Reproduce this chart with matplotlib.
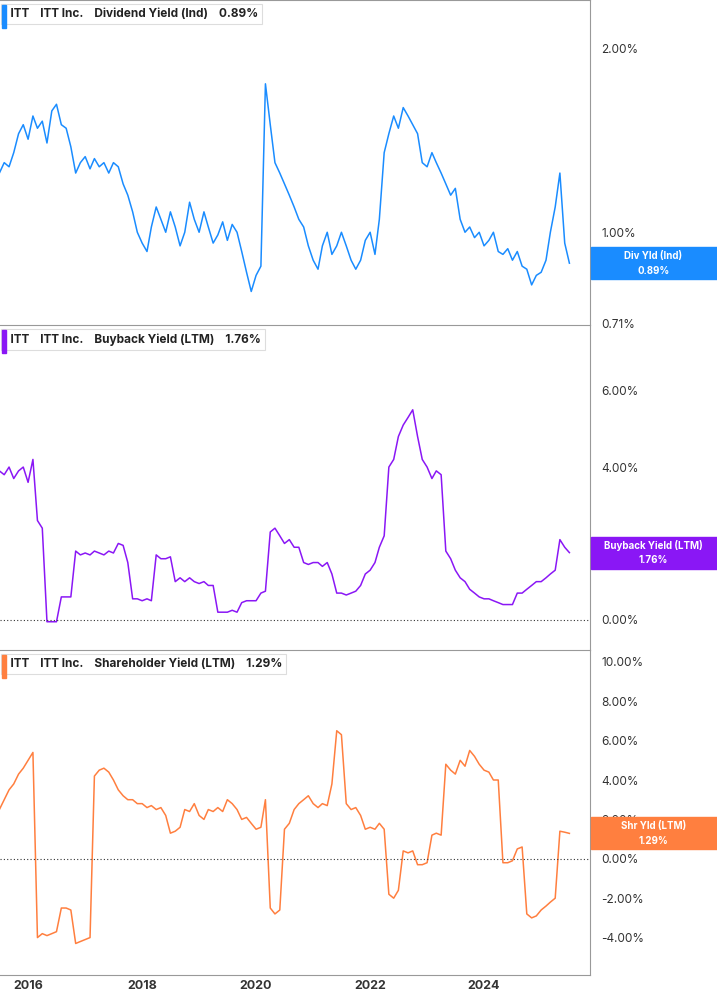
import numpy as np
import pandas as pd
import matplotlib
matplotlib.use("Agg")
import matplotlib.pyplot as plt
from matplotlib.ticker import FixedLocator, NullLocator
import matplotlib.dates as mdates

dates = pd.date_range("2015-07-01", periods=121, freq="MS")

div_yield = [1.25, 1.30, 1.28, 1.35, 1.45, 1.50, 1.42, 1.55, 1.48, 1.52, 1.40, 1.58, 1.62, 1.50, 1.48, 1.38,
             1.25, 1.30, 1.33, 1.27, 1.32, 1.28, 1.30, 1.25, 1.30, 1.28, 1.20, 1.15, 1.08, 1.00, 0.96, 0.93,
             1.02, 1.10, 1.05, 1.00, 1.08, 1.02, 0.95, 1.00, 1.12, 1.05, 1.00, 1.08, 1.02, 0.96, 0.99, 1.04,
             0.97, 1.03, 1.00, 0.93, 0.86, 0.80, 0.85, 0.88, 1.75, 1.50, 1.30, 1.25, 1.20, 1.15, 1.10, 1.05,
             1.02, 0.95, 0.90, 0.87, 0.95, 1.00, 0.92, 0.95, 1.00, 0.95, 0.90, 0.87, 0.90, 0.97, 1.00, 0.92,
             1.05, 1.35, 1.45, 1.55, 1.48, 1.60, 1.55, 1.50, 1.45, 1.30, 1.28, 1.35, 1.30, 1.25, 1.20, 1.15,
             1.18, 1.05, 1.00, 1.02, 0.98, 1.00, 0.95, 0.97, 1.00, 0.93, 0.92, 0.94, 0.90, 0.93, 0.88, 0.87,
             0.82, 0.85, 0.86, 0.90, 1.00, 1.10, 1.25, 0.96, 0.89]

buyback_yield = [3.9, 3.8, 4.0, 3.7, 3.9, 4.0, 3.6, 4.2, 2.6, 2.4, -0.05, -0.05, -0.05, 0.6, 0.6, 0.6,
                 1.8, 1.7, 1.75, 1.7, 1.8, 1.75, 1.7, 1.8, 1.75, 2.0, 1.95, 1.5, 0.55, 0.55, 0.5, 0.55,
                 0.5, 1.7, 1.6, 1.6, 1.65, 1.0, 1.1, 1.0, 1.1, 1.0, 0.95, 1.0, 0.9, 0.9, 0.2, 0.2,
                 0.2, 0.25, 0.2, 0.45, 0.5, 0.5, 0.5, 0.7, 0.75, 2.3, 2.4, 2.2, 2.0, 2.1, 1.9, 1.9,
                 1.5, 1.45, 1.5, 1.5, 1.4, 1.5, 1.2, 0.7, 0.7, 0.65, 0.7, 0.75, 0.9, 1.2, 1.3, 1.5,
                 1.9, 2.2, 4.0, 4.2, 4.8, 5.1, 5.3, 5.5, 4.8, 4.2, 4.0, 3.7, 3.9, 3.8, 1.8, 1.6,
                 1.3, 1.1, 1.0, 0.8, 0.7, 0.6, 0.55, 0.55, 0.5, 0.45, 0.4, 0.4, 0.4, 0.7, 0.7, 0.8,
                 0.9, 1.0, 1.0, 1.1, 1.2, 1.3, 2.1, 1.9, 1.76]

shr_yield = [2.5, 3.0, 3.5, 3.8, 4.3, 4.6, 5.0, 5.4, -4.0, -3.8, -3.9, -3.8, -3.7, -2.5, -2.5, -2.6,
             -4.3, -4.2, -4.1, -4.0, 4.2, 4.5, 4.6, 4.4, 4.0, 3.5, 3.2, 3.0, 3.0, 2.8, 2.8, 2.6,
             2.7, 2.5, 2.6, 2.2, 1.3, 1.4, 1.6, 2.5, 2.4, 2.8, 2.2, 2.0, 2.5, 2.4, 2.6, 2.4,
             3.0, 2.8, 2.5, 2.0, 2.1, 1.8, 1.5, 1.6, 3.0, -2.5, -2.8, -2.6, 1.5, 1.8, 2.5, 2.8,
             3.0, 3.2, 2.8, 2.6, 2.8, 2.7, 3.8, 6.5, 6.3, 2.8, 2.5, 2.6, 2.2, 1.5, 1.6, 1.5,
             1.8, 1.5, -1.8, -2.0, -1.6, 0.4, 0.3, 0.4, -0.3, -0.3, -0.2, 1.2, 1.3, 1.2, 4.8, 4.5,
             4.3, 5.0, 4.7, 5.5, 5.2, 4.8, 4.5, 4.4, 4.0, 4.0, -0.2, -0.2, -0.1, 0.5, 0.6, -2.8,
             -3.0, -2.9, -2.6, -2.4, -2.2, -2.0, 1.4, 1.35, 1.29]

W, H = 717, 1005
fig = plt.figure(figsize=(W / 100, H / 100), dpi=100)
plt.rcParams["font.family"] = "Inter"

panels = [
    dict(y=div_yield, color="#1a8cff", title="Dividend Yield (Ind)", tag="Div Yld (Ind)", val="0.89%",
         log=True, ylim=(0.705, 2.40), ticks=[0.71, 1.0, 2.0], zero=False),
    dict(y=buyback_yield, color="#8a17f5", title="Buyback Yield (LTM)", tag="Buyback Yield (LTM)", val="1.76%",
         log=False, ylim=(-0.79, 7.72), ticks=[0, 2, 4, 6], zero=True),
    dict(y=shr_yield, color="#ff7f3f", title="Shareholder Yield (LTM)", tag="Shr Yld (LTM)", val="1.29%",
         log=False, ylim=(-5.9, 10.6), ticks=list(range(-4, 11, 2)), zero=True),
]

axw = 590 / W
ph = 325 / H
xmin, xmax = pd.Timestamp("2015-07-05"), pd.Timestamp("2025-11-10")
for k, p in enumerate(panels):
    ax = fig.add_axes([0, 1 - (k + 1) * ph, axw, ph])
    ax.plot(dates, p["y"], color=p["color"], lw=1.1)
    if p["log"]:
        ax.set_yscale("log")
    ax.set_ylim(*p["ylim"])
    ax.set_xlim(xmin, xmax)
    ax.yaxis.tick_right()
    ax.yaxis.set_major_locator(FixedLocator(p["ticks"]))
    ax.yaxis.set_minor_locator(NullLocator())
    ax.set_yticklabels([f"{t:.2f}%" for t in p["ticks"]])
    ax.tick_params(axis="y", length=0, pad=8, labelsize=8.5, colors="#333333")
    for s in ["left", "bottom"]:
        ax.spines[s].set_visible(False)
    ax.spines["right"].set_color("#999999")
    ax.spines["top"].set_color("#999999")
    if p["zero"]:
        ax.axhline(0, color="#333333", lw=0.8, ls=(0, (1, 2)))
    if k < 2:
        ax.set_xticks([])
    else:
        ax.xaxis.set_major_locator(mdates.YearLocator(2, month=1, day=1))
        ax.xaxis.set_major_formatter(mdates.DateFormatter("%Y"))
        ax.tick_params(axis="x", length=0, labelsize=9, colors="#333333")
        for lbl in ax.get_xticklabels():
            lbl.set_fontweight("bold")
        ax.spines["bottom"].set_visible(True)
        ax.spines["bottom"].set_color("#999999")
    # legend box
    ax.text(0.008, 0.975, f"  ITT    ITT Inc.    {p['title']}    {p['val']}", transform=ax.transAxes,
            ha="left", va="top", fontsize=8.5, fontweight="bold", color="#222222",
            bbox=dict(boxstyle="square,pad=0.35", fc="white", ec="#dddddd", lw=0.8))
    ax.add_patch(plt.Rectangle((0.004, 0.915), 0.007, 0.07, transform=ax.transAxes,
                               color=p["color"], clip_on=False, zorder=5))
    # value tag on right
    last = p["y"][-1]
    lo, hi = p["ylim"]
    if p["log"]:
        yfrac = (np.log(last) - np.log(lo)) / (np.log(hi) - np.log(lo))
    else:
        yfrac = (last - lo) / (hi - lo)
    ytag = 1 - (k + 1) * ph + yfrac * ph
    fig.patches.append(plt.Rectangle((axw + 0.001, ytag - 0.016), 1 - axw, 0.032, transform=fig.transFigure,
                                     color=p["color"], zorder=5))
    fig.text(axw + (1 - axw) / 2, ytag + 0.0075, p["tag"], ha="center", va="center", color="white",
             fontsize=7, fontweight="bold", zorder=6)
    fig.text(axw + (1 - axw) / 2, ytag - 0.0075, p["val"], ha="center", va="center", color="white",
             fontsize=7, fontweight="bold", zorder=6)

fig.savefig("out.png", dpi=100)
